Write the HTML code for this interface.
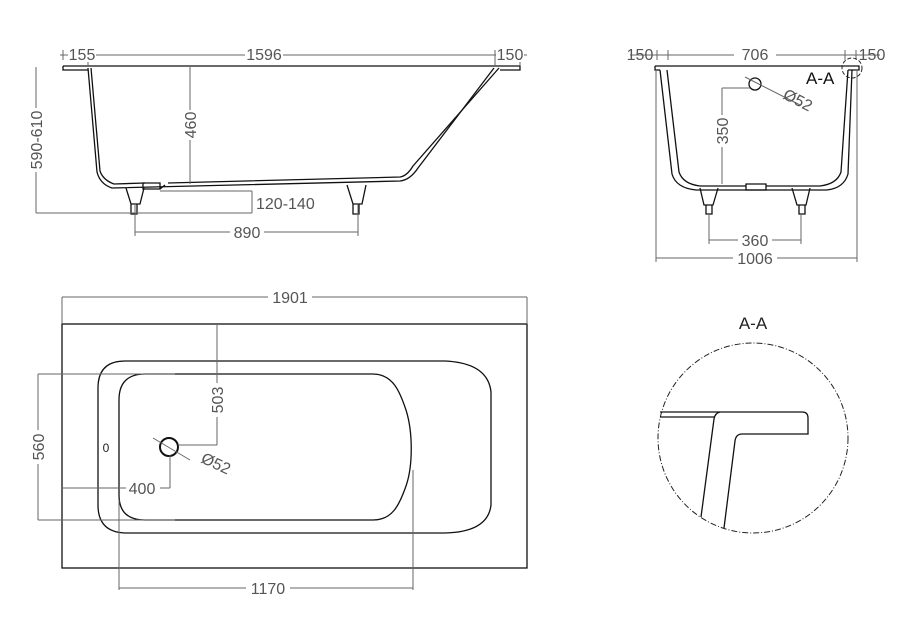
<!DOCTYPE html>
<html><head><meta charset="utf-8"><style>
html,body{margin:0;padding:0;background:#fff;}
svg{display:block;}
text{font-family:"Liberation Sans Narrow","Liberation Sans",sans-serif;font-size:16px;fill:#555;}
.d{stroke:#666;stroke-width:1;fill:none;}
.k{stroke:#111;stroke-width:1.3;fill:none;}
</style></head><body>
<svg width="902" height="617" viewBox="0 0 902 617" xmlns="http://www.w3.org/2000/svg">
<!-- SIDE VIEW -->
<g>
<path class="k" d="M63,66 H520 V70 H500 M63,66 V70 H88"/>
<path class="k" d="M88,68 L97,172 Q100,184 112,188 L400,181 Q410,180 418,168 L494,68"/>
<path class="k" d="M91,68 L100,171 Q103,180 114,184 L145,183 M168,183 L400,177 Q407,176 413,166 L499,68"/>
<path class="k" d="M143,183 H160 V189 H143 Z M160,189 L165,185"/>
<path class="k" d="M126,188 L131,204 H140 L144,188 M131,204 V214 H137 V204"/>
<path class="k" d="M347,185 L353,204 H362 L366,185 M353,204 V214 H359 V204"/>
<path class="d" d="M60,55 H527 M63,50 V60 M88,50 V66 M495,50 V66 M520,50 V66"/>
<path class="d" d="M36,67 V213 M36,213 H252 M252,191 V213 M160,191 H252 M190,67 V184"/>
<path class="d" d="M135,205 V236 M358,205 V236 M135,232 H358"/>
<rect x="68" y="46" width="28" height="16" fill="#fff"/><text x="82" y="60" text-anchor="middle">155</text>
<rect x="245" y="46" width="38" height="16" fill="#fff"/><text x="264" y="60" text-anchor="middle">1596</text>
<rect x="496" y="46" width="28" height="16" fill="#fff"/><text x="510" y="60" text-anchor="middle">150</text>
<rect x="27" y="108" width="18" height="64" fill="#fff"/><text transform="translate(42,140) rotate(-90)" text-anchor="middle">590-610</text>
<rect x="181" y="110" width="18" height="30" fill="#fff"/><text transform="translate(196,125) rotate(-90)" text-anchor="middle">460</text>
<text x="256" y="209">120-140</text>
<rect x="230" y="224" width="34" height="16" fill="#fff"/><text x="247" y="238" text-anchor="middle">890</text>
</g>
<!-- FRONT VIEW -->
<g>
<path class="k" d="M655,66 H859 V70 H848 M655,66 V70 H660"/>
<path class="k" d="M660,70 L672,174 Q676,188 696,190 L827,190 Q844,188 848,174 L852,70"/>
<path class="k" d="M667,70 L679,172 Q683,184 700,186 L746,186 M766,186 L820,186 Q837,184 841,172 L848,70"/>
<path class="k" d="M746,184 H766 V190 H746 Z"/>
<path class="k" d="M700,188 L704,205 H713 L718,188 M706,205 V214 H712 V205"/>
<path class="k" d="M792,188 L797,205 H806 L810,188 M799,205 V214 H805 V205"/>
<circle cx="755" cy="84" r="6" class="k"/>
<path class="d" d="M745,77 L800,105 M722,88 H750 M722,88 V184"/>
<path class="d" d="M630,55 H880 M657,50 V60 M668,50 V60 M845,50 V60 M856,50 V60"/>
<path class="d" d="M656,70 V262 M857,70 V262 M656,258 H857 M709,214 V244 M801,214 V244 M709,240 H801"/>
<circle cx="852" cy="68" r="10" fill="none" stroke="#222" stroke-width="1" stroke-dasharray="4,2"/>
<rect x="734" y="46" width="42" height="16" fill="#fff"/><text x="755" y="60" text-anchor="middle">706</text>
<text x="640" y="60" text-anchor="middle">150</text>
<text x="872" y="60" text-anchor="middle">150</text>
<text transform="translate(782,98) rotate(27)">Ø52</text>
<rect x="713" y="115" width="18" height="32" fill="#fff"/><text transform="translate(728,131) rotate(-90)" text-anchor="middle">350</text>
<rect x="738" y="232" width="34" height="16" fill="#fff"/><text x="755" y="246" text-anchor="middle">360</text>
<rect x="733" y="250" width="44" height="16" fill="#fff"/><text x="755" y="264" text-anchor="middle">1006</text>
<text x="806" y="84" style="fill:#111;font-size:17px">A-A</text>
</g>
<!-- PLAN VIEW -->
<g>
<rect x="62" y="324" width="465" height="244" class="k"/>
<path class="d" d="M62,297 H527 M62,297 V324 M527,297 V324"/>
<rect x="268" y="289" width="44" height="16" fill="#fff"/><text x="290" y="303" text-anchor="middle">1901</text>
<path class="k" d="M125,361 H445 Q488,363 491,392 V505 Q488,532 445,533 H125 Q98,532 98,505 V388 Q98,361 125,361 Z"/>
<path class="k" d="M145,374 H373 C393,374 400,392 406,410 C413,432 413,466 406,486 C399,506 392,520 373,520 H145 Q119,520 119,495 V400 Q119,374 145,374 Z"/>
<circle cx="169" cy="447" r="9" fill="none" stroke="#111" stroke-width="2"/>
<path class="d" d="M153,438 L190,460 M178,445 H217 M217,324 V445 M170,455 V488 M62,488 H170"/>
<path class="d" d="M38,374 H175 M38,520 H175 M38,374 V520"/>
<path class="d" d="M119,500 V590 M413,470 V590 M119,588 H413"/>
<rect x="208" y="383" width="18" height="34" fill="#fff"/><text transform="translate(223,400) rotate(-90)" text-anchor="middle">503</text>
<text transform="translate(200,462) rotate(25)">Ø52</text>
<rect x="126" y="480" width="34" height="16" fill="#fff"/><text x="142" y="494" text-anchor="middle">400</text>
<rect x="29" y="430" width="18" height="34" fill="#fff"/><text transform="translate(44,447) rotate(-90)" text-anchor="middle">560</text>
<rect x="246" y="580" width="44" height="16" fill="#fff"/><text x="268" y="594" text-anchor="middle">1170</text>
<text x="106" y="452" text-anchor="middle" style="font-size:12px;fill:#222">0</text>
</g>
<!-- DETAIL A-A -->
<g>
<text x="753" y="329" text-anchor="middle" style="fill:#222;font-size:17px">A-A</text>
<circle cx="753" cy="438" r="95" fill="none" stroke="#222" stroke-width="1" stroke-dasharray="6,2,1,2"/>
<path class="k" d="M660,412 H802 Q808,412 808,418 V434 H742 Q736,434 735,441 L724,528"/>
<path class="k" d="M660,417 H714 M720,412 Q715,413 714,419 L701,517"/>
</g>
</svg>
</body></html>
